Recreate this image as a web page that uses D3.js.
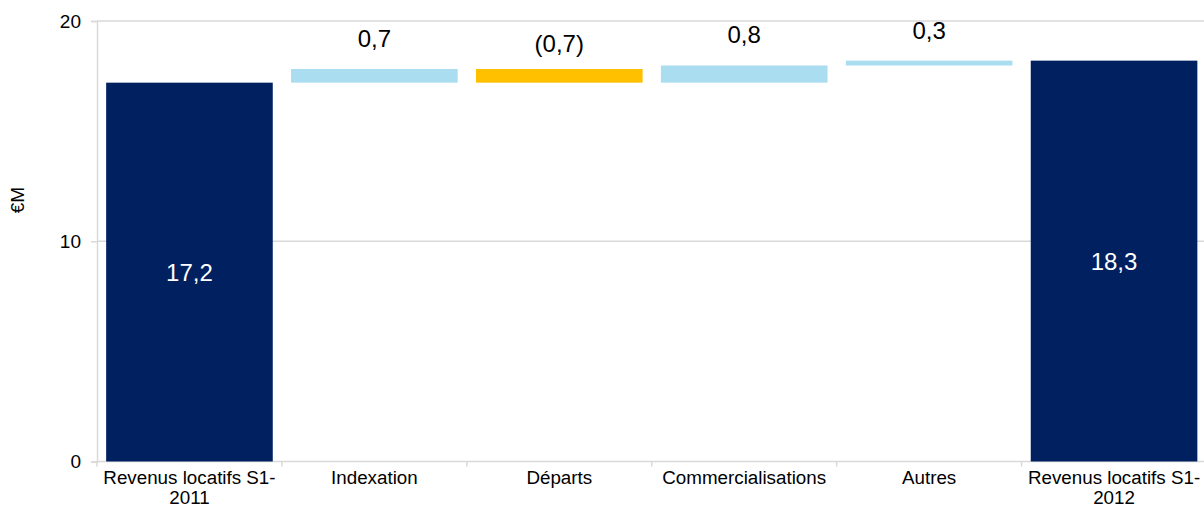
<!DOCTYPE html>
<html>
<head>
<meta charset="utf-8">
<script src="https://cdn.jsdelivr.net/npm/d3@7"></script>
<style>
  html, body { margin: 0; padding: 0; background: #fff; }
  svg { display: block; font-family: "Liberation Sans", Arial, sans-serif; }
</style>
</head>
<body>
<svg id="chart" width="1204" height="508"></svg>
<script>
// ---- data ----
const categories = ["Revenus locatifs S1-2011", "Indexation", "Départs", "Commercialisations", "Autres", "Revenus locatifs S1-2012"];
const categoryLines = [["Revenus locatifs S1-", "2011"], ["Indexation"], ["Départs"], ["Commercialisations"], ["Autres"], ["Revenus locatifs S1-", "2012"]];
const startValue = 17.2;
const deltas = [0.62, -0.62, 0.78, 0.22];
const endValue = 18.2;
const valueLabels = ["17,2", "0,7", "(0,7)", "0,8", "0,3", "18,3"];
const yTicks = [0, 10, 20];
const yLabel = "€M";

(function () {
// ---- build bars ----
const bars = [];
bars.push({ cat: categories[0], y0: 0, y1: startValue, kind: "total" });
let run = startValue;
deltas.forEach((d, i) => {
  bars.push({ cat: categories[i + 1], y0: Math.min(run, run + d), y1: Math.max(run, run + d), kind: d >= 0 ? "up" : "down" });
  run += d;
});
bars.push({ cat: categories[5], y0: 0, y1: endValue, kind: "total" });

const colors = { total: "#002060", up: "#A9DDEF", down: "#FFC000" };

const svg = d3.select("#chart");
const mLeft = 97, mTop = 21, mBottom = 461.5, mRight = 1206.5;

const x = d3.scaleBand().domain(categories).range([mLeft, mRight]).paddingInner(0.099).paddingOuter(0.0495);
const y = d3.scaleLinear().domain([0, 20]).range([mBottom, mTop]);

const grid = "#d9d9d9";

// gridlines
svg.append("g").selectAll("line").data(yTicks).join("line")
  .attr("x1", mLeft).attr("x2", 1204)
  .attr("y1", d => y(d)).attr("y2", d => y(d))
  .attr("stroke", grid).attr("stroke-width", 1.5);

// y axis
const yAxis = d3.axisLeft(y).tickValues(yTicks).tickSize(6).tickFormat(d3.format("d"));
const gy = svg.append("g").attr("transform", `translate(${mLeft},0)`).call(yAxis);
gy.select(".domain").attr("stroke", grid).attr("stroke-width", 1.5);
gy.selectAll(".tick line").attr("stroke", grid).attr("stroke-width", 1.5);
gy.selectAll(".tick text").attr("x", -16).attr("fill", "#000").style("font-size", "19px").style("font-family", "Liberation Sans, Arial, sans-serif");

// category boundary ticks
const bounds = d3.range(categories.length + 1).map(i => x.range()[0] + i * x.step());
svg.append("g").selectAll("line").data(bounds).join("line")
  .attr("x1", d => d).attr("x2", d => d)
  .attr("y1", y(0)).attr("y2", y(0) + 5)
  .attr("stroke", grid).attr("stroke-width", 1.5);

// bars
svg.append("g").selectAll("rect").data(bars).join("rect")
  .attr("x", d => x(d.cat))
  .attr("width", x.bandwidth())
  .attr("y", d => y(d.y1))
  .attr("height", d => y(d.y0) - y(d.y1))
  .attr("fill", d => colors[d.kind]);

// value labels
svg.append("g").selectAll("text").data(bars).join("text")
  .attr("x", d => x(d.cat) + x.bandwidth() / 2)
  .attr("y", d => d.kind === "total" ? (y(d.y1) + y(d.y0)) / 2 + 9 : y(d.y1) - (d.kind === "down" ? 17.5 : 22))
  .attr("text-anchor", "middle")
  .attr("fill", d => d.kind === "total" ? "#fff" : "#000")
  .style("font-size", "24px")
  .text((d, i) => valueLabels[i]);

// category labels
const cl = svg.append("g").selectAll("text").data(categories).join("text")
  .attr("x", d => x(d) + x.bandwidth() / 2)
  .attr("y", 483.5)
  .attr("text-anchor", "middle")
  .attr("fill", "#000")
  .style("font-size", "18.8px");
cl.each(function (d, i) {
  const t = d3.select(this);
  categoryLines[i].forEach((line, j) => {
    t.append("tspan").attr("x", x(d) + x.bandwidth() / 2).attr("dy", j === 0 ? 0 : 20.5).text(line);
  });
});

// y label
svg.append("text")
  .attr("transform", "translate(24,200) rotate(-90)")
  .attr("text-anchor", "middle")
  .attr("fill", "#000")
  .style("font-size", "19px")
  .text(yLabel);
})();
</script>
</body>
</html>
